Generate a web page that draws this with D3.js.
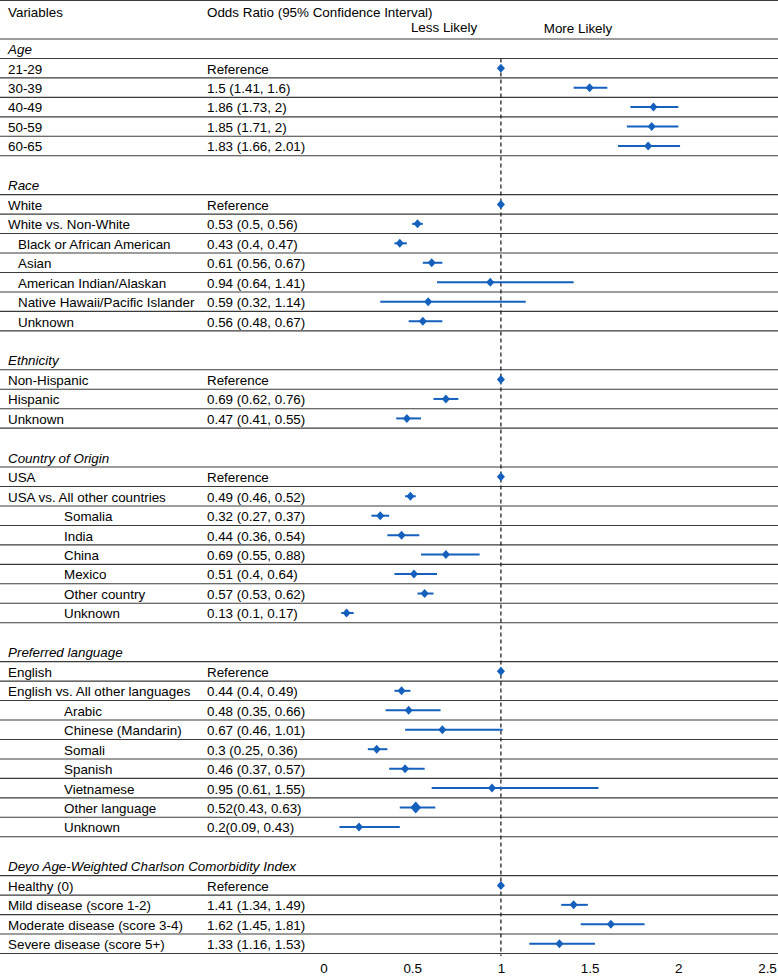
<!DOCTYPE html>
<html><head><meta charset="utf-8">
<script src="https://cdn.jsdelivr.net/npm/d3@7"></script>
<style>body{margin:0;background:#fff}svg{display:block}text{font-family:"Liberation Sans",Arial,sans-serif;font-size:13.4px;fill:#000}</style>
</head><body><svg id="c" width="778" height="976"></svg>
<script>
// ---- data ----
const sectionTitles = ["Age","Race","Ethnicity","Country of Origin","Preferred language","Deyo Age-Weighted Charlson Comorbidity Index"];
const rowSection = [0,0,0,0,0, 1,1,1,1,1,1,1, 2,2,2, 3,3,3,3,3,3,3,3, 4,4,4,4,4,4,4,4,4, 5,5,5,5];
const rowLevel   = [0,0,0,0,0, 0,0,1,1,1,1,1, 0,0,0, 0,0,2,2,2,2,2,2, 0,0,2,2,2,2,2,2,2, 0,0,0,0];
const rowLabels = ["21-29","30-39","40-49","50-59","60-65",
 "White","White vs. Non-White","Black or African American","Asian","American Indian/Alaskan","Native Hawaii/Pacific Islander","Unknown",
 "Non-Hispanic","Hispanic","Unknown",
 "USA","USA vs. All other countries","Somalia","India","China","Mexico","Other country","Unknown",
 "English","English vs. All other languages","Arabic","Chinese (Mandarin)","Somali","Spanish","Vietnamese","Other language","Unknown",
 "Healthy (0)","Mild disease (score 1-2)","Moderate disease (score 3-4)","Severe disease (score 5+)"];
const rowText = ["Reference","1.5 (1.41, 1.6)","1.86 (1.73, 2)","1.85 (1.71, 2)","1.83 (1.66, 2.01)",
 "Reference","0.53 (0.5, 0.56)","0.43 (0.4, 0.47)","0.61 (0.56, 0.67)","0.94 (0.64, 1.41)","0.59 (0.32, 1.14)","0.56 (0.48, 0.67)",
 "Reference","0.69 (0.62, 0.76)","0.47 (0.41, 0.55)",
 "Reference","0.49 (0.46, 0.52)","0.32 (0.27, 0.37)","0.44 (0.36, 0.54)","0.69 (0.55, 0.88)","0.51 (0.4, 0.64)","0.57 (0.53, 0.62)","0.13 (0.1, 0.17)",
 "Reference","0.44 (0.4, 0.49)","0.48 (0.35, 0.66)","0.67 (0.46, 1.01)","0.3 (0.25, 0.36)","0.46 (0.37, 0.57)","0.95 (0.61, 1.55)","0.52(0.43, 0.63)","0.2(0.09, 0.43)",
 "Reference","1.41 (1.34, 1.49)","1.62 (1.45, 1.81)","1.33 (1.16, 1.53)"];
const rowOR = [1,1.5,1.86,1.85,1.83, 1,0.53,0.43,0.61,0.94,0.59,0.56, 1,0.69,0.47, 1,0.49,0.32,0.44,0.69,0.51,0.57,0.13, 1,0.44,0.48,0.67,0.3,0.46,0.95,0.52,0.2, 1,1.41,1.62,1.33];
const rowLo = [null,1.41,1.73,1.71,1.66, null,0.5,0.4,0.56,0.64,0.32,0.48, null,0.62,0.41, null,0.46,0.27,0.36,0.55,0.4,0.53,0.1, null,0.4,0.35,0.46,0.25,0.37,0.61,0.43,0.09, null,1.34,1.45,1.16];
const rowHi = [null,1.6,2,2,2.01, null,0.56,0.47,0.67,1.41,1.14,0.67, null,0.76,0.55, null,0.52,0.37,0.54,0.88,0.64,0.62,0.17, null,0.49,0.66,1.01,0.36,0.57,1.55,0.63,0.43, null,1.49,1.81,1.53];
const xTicks = [0,0.5,1,1.5,2,2.5];
const headerVar = "Variables", headerOR = "Odds Ratio (95% Confidence Interval)";
const lessLabel = "Less Likely", moreLabel = "More Likely";

// ---- build slots ----
const slots = [];
sectionTitles.forEach((t,s)=>{
  if(s>0) slots.push({type:"blank"});
  slots.push({type:"head",text:t});
  rowSection.forEach((rs,i)=>{ if(rs===s) slots.push({type:"row",i}); });
});
const W=778;
const y = d3.scaleLinear().domain([0,slots.length]).range([39,953.5]);
const x = d3.scaleLinear().domain([0,2.5]).range([323.5,767]);
const svg = d3.select("#c");
const blue="#1560bd";
const indent=[8,18,64];

// lines
const lineYs=[0.5, y(0)];
slots.forEach((s,k)=>{ if(s.type!=="blank") lineYs.push(y(k+1)); });
svg.selectAll("line.h").data(lineYs).join("line").attr("class","h")
 .attr("x1",0).attr("x2",W).attr("y1",d=>d).attr("y2",d=>d)
 .attr("stroke","#3a3a3a").attr("stroke-width",1.1);

// header
svg.append("text").attr("x",8).attr("y",12).attr("dy","0.35em").text(headerVar);
svg.append("text").attr("x",207).attr("y",12).attr("dy","0.35em").text(headerOR);
svg.append("text").attr("x",444).attr("y",27).attr("dy","0.35em").attr("text-anchor","middle").text(lessLabel);
svg.append("text").attr("x",578).attr("y",28).attr("dy","0.35em").attr("text-anchor","middle").text(moreLabel);

// reference line
svg.append("line").attr("x1",x(1)).attr("x2",x(1)).attr("y1",y(1)).attr("y2",956)
 .attr("stroke","#222").attr("stroke-width",1.3).attr("stroke-dasharray","4,3");

const cy=k=>(y(k)+y(k+1))/2+0.7;
slots.forEach((s,k)=>{
  if(s.type==="head"){
    svg.append("text").attr("x",8).attr("y",cy(k)).attr("dy","0.35em").attr("font-style","italic").text(s.text);
  } else if(s.type==="row"){
    const i=s.i;
    svg.append("text").attr("x",indent[rowLevel[i]]).attr("y",cy(k)).attr("dy","0.35em").text(rowLabels[i]);
    svg.append("text").attr("x",207).attr("y",cy(k)).attr("dy","0.35em").text(rowText[i]);
    const yy=cy(k)-0.7;
    if(rowLo[i]!==null){
      svg.append("line").attr("x1",x(rowLo[i])).attr("x2",x(rowHi[i])).attr("y1",yy).attr("y2",yy)
        .attr("stroke",blue).attr("stroke-width",2);
    }
    const r = (rowLabels[i]==="Other language")?6:4.5;
    svg.append("path").attr("d",`M${x(rowOR[i])},${yy-r}L${x(rowOR[i])+r*0.9},${yy}L${x(rowOR[i])},${yy+r}L${x(rowOR[i])-r*0.9},${yy}Z`)
      .attr("fill",blue);
  }
});

// axis
const ax = svg.append("g").attr("transform","translate(0,960)")
 .call(d3.axisBottom(x).tickValues(xTicks).tickSize(0).tickFormat(d3.format("")));
ax.select(".domain").remove();
ax.selectAll("text").attr("font-size","13.4px").attr("font-family","Liberation Sans, Arial, sans-serif").attr("fill","#000").attr("dy","0.35em").attr("y",8);
</script></body></html>
